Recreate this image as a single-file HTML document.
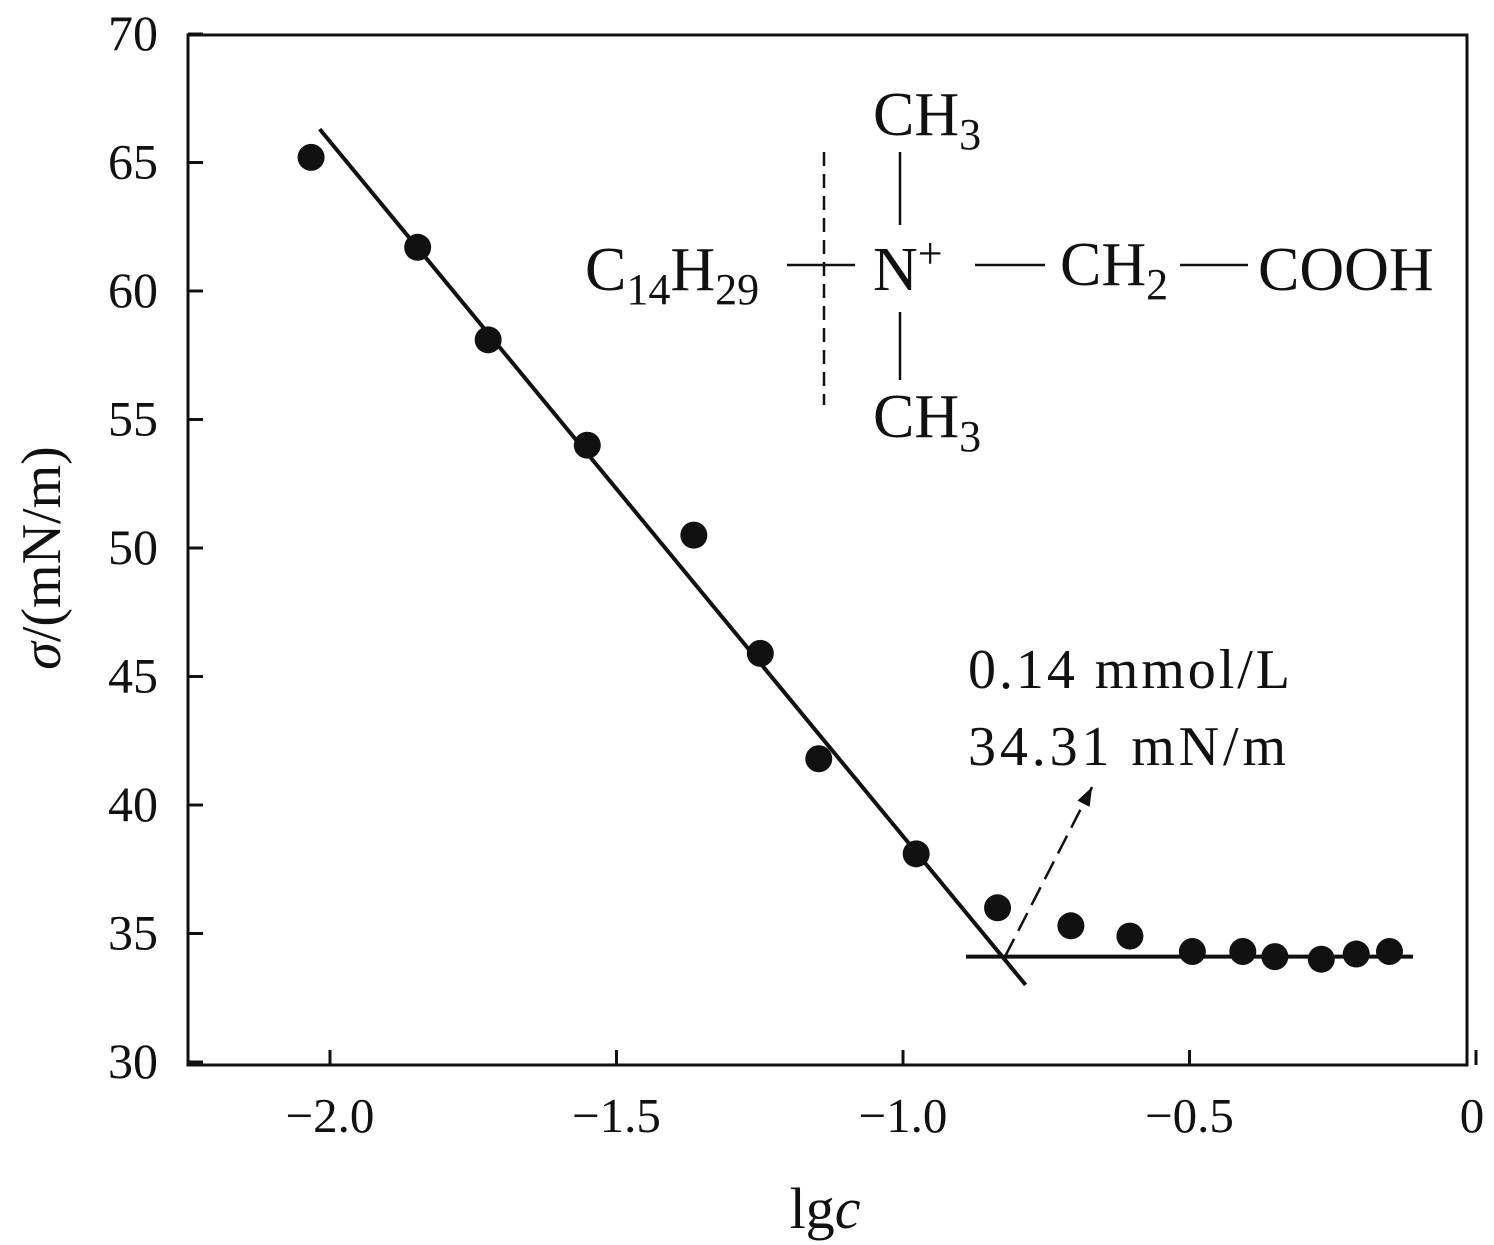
<!DOCTYPE html>
<html><head><meta charset="utf-8">
<style>
html,body{margin:0;padding:0;background:#fff}
svg{display:block}
text{font-family:"Liberation Serif",serif;fill:#111}
</style></head>
<body>
<svg id="chart" width="1494" height="1245" viewBox="0 0 1494 1245">
<rect x="188" y="35" width="1279" height="1030" fill="none" stroke="#111" stroke-width="3"/>
<g id="ticks"></g>
<g id="marks"></g>
<text x="825" y="1228" font-size="58" text-anchor="middle">lg<tspan font-style="italic">c</tspan></text>
<text transform="translate(60,558) rotate(-90)" font-size="56" text-anchor="middle"><tspan font-style="italic">σ</tspan>/(mN/m)</text>
<g font-size="62">
<text x="873" y="135">CH<tspan font-size="44" dy="14">3</tspan></text>
<text x="873" y="437">CH<tspan font-size="44" dy="14">3</tspan></text>
<text x="585" y="290">C<tspan font-size="44" dy="14">14</tspan><tspan dy="-14">H</tspan><tspan font-size="44" dy="14">29</tspan></text>
<text x="873" y="290">N<tspan font-size="44" dy="-22">+</tspan></text>
<text x="1060" y="285">CH<tspan font-size="44" dy="14">2</tspan></text>
<text x="1258" y="290">COOH</text>
<line x1="900" y1="152" x2="900" y2="225" stroke="#111" stroke-width="2.5"/>
<line x1="900" y1="312" x2="900" y2="380" stroke="#111" stroke-width="2.5"/>
<line x1="787" y1="265" x2="855" y2="265" stroke="#111" stroke-width="2.5"/>
<line x1="975" y1="265" x2="1045" y2="265" stroke="#111" stroke-width="2.5"/>
<line x1="1180" y1="265" x2="1248" y2="265" stroke="#111" stroke-width="2.5"/>
<line x1="824" y1="152" x2="824" y2="405" stroke="#111" stroke-width="2.5" stroke-dasharray="14,8"/>
</g>
<text x="968" y="688" font-size="56" textLength="322">0.14 mmol/L</text>
<text x="968" y="765" font-size="56" textLength="318">34.31 mN/m</text>
</svg>
<script>
const xTicks=[-2.0,-1.5,-1.0,-0.5,0];
const xTickLabels=["−2.0","−1.5","−1.0","−0.5","0"];
const yTicks=[30,35,40,45,50,55,60,65,70];
const lgc=[-2.033,-1.847,-1.724,-1.551,-1.365,-1.249,-1.147,-0.977,-0.835,-0.707,-0.604,-0.495,-0.407,-0.351,-0.27,-0.209,-0.151];
const sigma=[65.2,61.7,58.1,54.0,50.5,45.9,41.8,38.1,36.0,35.3,34.9,34.3,34.3,34.1,34.0,34.2,34.3];
const fitX=[-2.018,-0.786];
const fitY=[66.3,33.0];
const plateauX=[-0.89,-0.11];
const plateauY=[34.1,34.1];
const arrowX=[-0.822,-0.67];
const arrowY=[34.1,40.7];

const X=v=>1476+v*573;
const Y=v=>1062-(v-30)*25.7;
const NS="http://www.w3.org/2000/svg";
function mk(tag,attrs,parent){const e=document.createElementNS(NS,tag);for(const k in attrs)e.setAttribute(k,attrs[k]);parent.appendChild(e);return e;}
const tg=document.getElementById('ticks'), mg=document.getElementById('marks');
xTicks.forEach((v,i)=>{
  const t=mk('line',{x1:X(v),x2:X(v),y1:1065,y2:1050,stroke:'#111','stroke-width':3},tg);
  
  
  const l=mk('text',{x:Math.min(X(v),1472),y:1132,'font-size':49,'text-anchor':'middle'},tg);
  l.textContent=xTickLabels[i];
  
  
});
yTicks.forEach(v=>{
  const t=mk('line',{x1:188,x2:203,y1:Y(v),y2:Y(v),stroke:'#111','stroke-width':3},tg);
  
  
  const l=mk('text',{x:158,y:Y(v)+16,'font-size':50,'text-anchor':'end'},tg);
  l.textContent=v;
  
  
});
const fit=mk('line',{x1:X(fitX[0]),y1:Y(fitY[0]),x2:X(fitX[1]),y2:Y(fitY[1]),stroke:'#111','stroke-width':4},mg);


const pl=mk('line',{x1:X(plateauX[0]),y1:Y(plateauY[0]),x2:X(plateauX[1]),y2:Y(plateauY[1]),stroke:'#111','stroke-width':4},mg);


const ax1=X(arrowX[0]),ay1=Y(arrowY[0]),ax2=X(arrowX[1]),ay2=Y(arrowY[1]);
const ar=mk('line',{x1:ax1,y1:ay1,x2:ax2,y2:ay2,stroke:'#111','stroke-width':2.5,'stroke-dasharray':'20,9'},mg);


const ang=Math.atan2(ay2-ay1,ax2-ax1),L=20,w=0.35;
const hd=mk('polygon',{points:`${ax2},${ay2} ${ax2-L*Math.cos(ang-w)},${ay2-L*Math.sin(ang-w)} ${ax2-L*Math.cos(ang+w)},${ay2-L*Math.sin(ang+w)}`,fill:'#111'},mg);


lgc.forEach((v,i)=>{
  const c=mk('circle',{cx:X(v),cy:Y(sigma[i]),r:13.5,fill:'#111'},mg);
  
  
});
</script>
</body></html>
